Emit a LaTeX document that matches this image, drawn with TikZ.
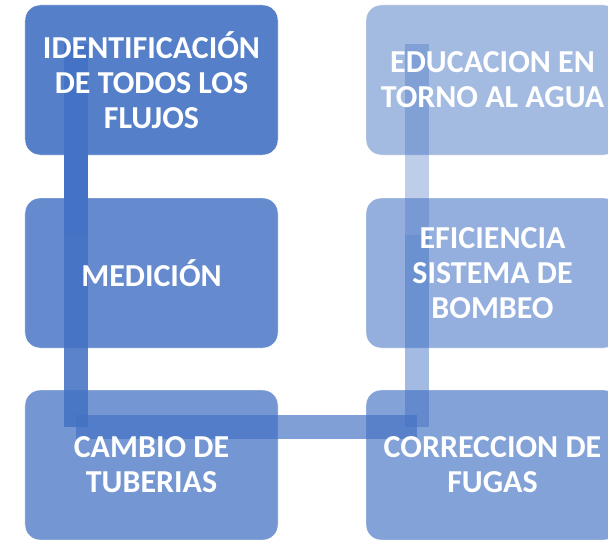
\documentclass[tikz,border=0pt]{standalone}
\usepackage{fontspec}
\setmainfont{Carlito}
\usetikzlibrary{positioning,calc}
\definecolor{accent}{RGB}{68,114,196}
\definecolor{boxa}{RGB}{85,128,201}
\definecolor{boxb}{RGB}{101,138,206}
\definecolor{boxc}{RGB}{116,151,211}
\definecolor{boxd}{RGB}{131,162,215}
\definecolor{boxe}{RGB}{148,175,221}
\definecolor{boxf}{RGB}{163,187,225}
\begin{document}
\begin{tikzpicture}[
				x=0.03cm, y=-0.03cm,
				box/.style={rectangle, rounded corners=0.45cm, draw=white, line width=0.4pt, minimum width=7.59cm, minimum height=4.5cm, inner sep=0pt, outer sep=0pt},
				lbl/.style={text=white, font=\bfseries\fontsize{27.3}{29.8}\selectfont, align=center},
				bar/.style={draw=accent, line width=0.72cm}
				]
			\useasboundingbox (0,0) rectangle (608,540);
			\clip (0,0) rectangle (608,540);
			% boxes
			\node [box, fill=boxa] (idf) at (151.5,80) {};
			\node [box, fill=boxb, below=1.29cm of idf] (med) {};
			\node [box, fill=boxc, below=1.26cm of med] (cam) {};
			\node [box, fill=boxd, right=2.64cm of cam] (cor) {};
			\node [box, fill=boxe, above=1.26cm of cor] (efi) {};
			\node [box, fill=boxf, above=1.29cm of efi] (edu) {};
			% connector
			\coordinate (p1) at ($(idf.north west)+(51,39)$);
			\coordinate (p2) at ($(med.north west)+(51,37)$);
			\coordinate (p3) at ($(cam.north west)+(51,37)$);
			\coordinate (p4) at ($(cor.north west)+(51,37)$);
			\coordinate (p5) at ($(efi.north west)+(51,37)$);
			\coordinate (p6) at ($(edu.north west)+(51,39)$);
			\draw [bar] (p1) -- (p2);
			\draw [bar, draw opacity=.88] (p2) -- (p3);
			\draw [bar, draw opacity=.68] (p3) -- (p4);
			\draw [bar, draw opacity=.49] (p4) -- (p5);
			\draw [bar, draw opacity=.35] (p5) -- (p6);
			% labels
			\node [lbl] (tidf) at (idf) {IDENTIFICACIÓN\\DE TODOS LOS\\FLUJOS};
			\node [lbl] (tmed) at (med) {MEDICIÓN};
			\node [lbl] (tcam) at (cam) {CAMBIO DE\\TUBERIAS};
			\node [lbl] (tcor) at (cor) {CORRECCION DE\\FUGAS};
			\node [lbl] (tefi) at (efi) {EFICIENCIA\\SISTEMA DE\\BOMBEO};
			\node [lbl] (tedu) at (edu) {EDUCACION EN\\TORNO AL AGUA};
			\end{tikzpicture}
\end{document}
